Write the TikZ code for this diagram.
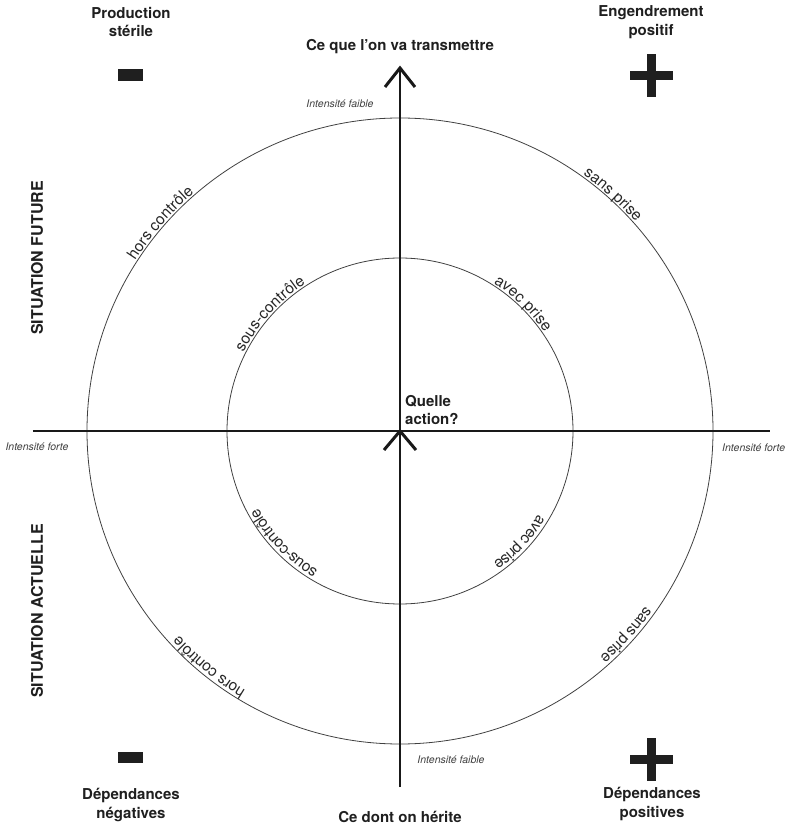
\documentclass[tikz,border=0pt]{standalone}
\usepackage{fontspec}
\setmainfont{TeX Gyre Heros}
\usetikzlibrary{decorations.text}
\newcommand\lblfont{\fontsize{15.5}{15.5}\selectfont\color{black!85}}
\newcommand\arclabel[4]{%
  \path[decorate, decoration={text along path, text align=center, raise=#3,
    text={|\lblfont|#4}}] (#1+40:#2) arc[start angle=#1+40, end angle=#1-40, radius=#2];}
\begin{document}
\begin{tikzpicture}[x=1pt,y=1pt,
  ttl/.style={font=\fontsize{15}{18.5}\selectfont\bfseries, align=center, text=black!88, inner sep=0pt},
  side/.style={font=\fontsize{16}{18}\selectfont\bfseries, rotate=90, text=black!88, inner sep=0pt},
  intens/.style={font=\fontsize{10.5}{12}\selectfont\itshape, text=black!75, inner sep=0pt},
  ring/.style={draw=black!75, line width=0.8pt},
  axis/.style={line width=2.2pt, draw=black!90},
  chev/.style={line width=3pt, draw=black!90, line join=miter},
  sign/.style={fill=black!88, draw=none},
]
\useasboundingbox (-400,-395) rectangle (388,431);

% circles
\coordinate (O) at (0,0);
\draw[ring] (O) circle[radius=313];
\draw[ring] (O) circle[radius=173];

% axes
\coordinate (hl) at (-367,0);
\coordinate (hr) at (370,0);
\draw[line width=2pt, draw=black!90] (hl) -- (hr);
\coordinate (vbot) at (0,-356);
\coordinate (vtop) at (0,363);
\draw[axis] (vbot) -- (vtop);
\coordinate (tl) at (-15,344);
\coordinate (tr) at (15,344);
\draw[chev] (tl) -- (vtop) -- (tr);
\coordinate (cl) at (-16,-19);
\coordinate (cr) at (16,-19);
\draw[chev] (cl) -- (O) -- (cr);

% arc labels
\arclabel{139}{313}{2pt}{hors contrôle}
\arclabel{48}{313}{2pt}{sans prise}
\arclabel{138}{173}{2pt}{sous-contrôle}
\arclabel{46}{173}{2pt}{avec prise}
\arclabel{224}{173}{-11.5pt}{sous-contrôle}
\arclabel{-43}{173}{-11.5pt}{avec prise}
\arclabel{231}{313}{-11.5pt}{hors contrôle}
\arclabel{-42}{313}{-11.5pt}{sans prise}

% intensity labels
\node[intens] (ifh) at (-60,327) {Intensité faible};
\node[intens] (ifb) at (51,-329) {Intensité faible};
\node[intens] (ifg) at (-363,-16) {Intensité forte};
\node[intens, anchor=west] (ifd) at (322,-17) {Intensité forte};

% titles
\node[ttl] (prod) at (-269,409) {Production\\stérile};
\node[ttl] (eng) at (251,409) {Engendrement\\positif};
\node[ttl] (dneg) at (-269,-374) {Dépendances\\négatives};
\node[ttl] (dpos) at (252,-373) {Dépendances\\positives};
\node[ttl] (trans) at (0,384) {Ce que l’on va transmettre};
\node[ttl] (herit) at (0,-386) {Ce dont on hérite};
\node[ttl, align=left, anchor=south west] (qa) at (5,6) {Quelle\\action?};
\node[side] (sf) at (-363,173) {SITUATION FUTURE};
\node[side] (sa) at (-363,-180) {SITUATION ACTUELLE};

% signs
\fill[sign] (-282,350) rectangle (-257,362);
\fill[sign] (-282,-332) rectangle (-257,-321);
\fill[sign] (229.5,350.5) rectangle (272.5,359.5);
\fill[sign] (246.5,333.5) rectangle (255.5,376.5);
\fill[sign] (229.5,-332.5) rectangle (272.5,-323.5);
\fill[sign] (246.5,-349.5) rectangle (255.5,-306.5);
\end{tikzpicture}
\end{document}
